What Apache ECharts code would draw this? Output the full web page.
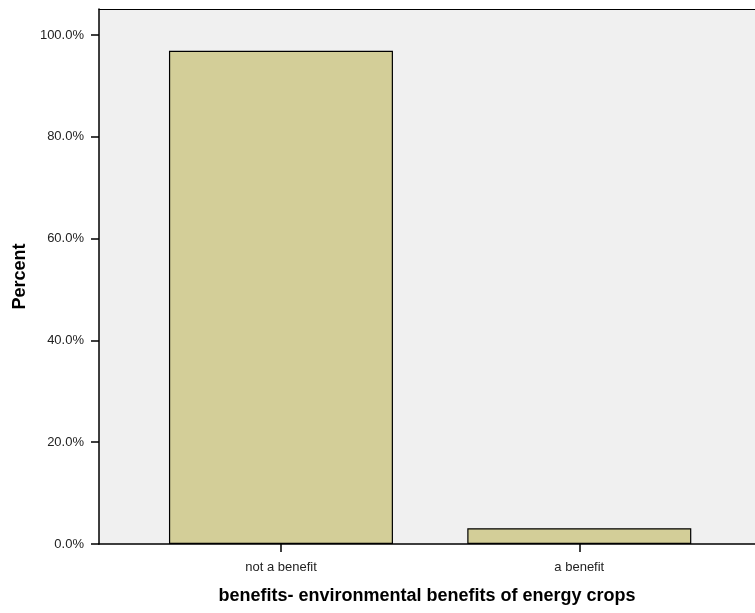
<!DOCTYPE html>
<html>
<head>
<meta charset="utf-8">
<script src="https://cdn.jsdelivr.net/npm/echarts@6/dist/echarts.min.js"></script>
<style>html,body{margin:0;padding:0;background:#fff}#c{width:755px;height:613px}</style>
</head>
<body>
<div id="c"></div>
<script>
const categories = ["not a benefit", "a benefit"];
const percents = [96.9, 3.1];
const yTicks = [0, 20, 40, 60, 80, 100];
const xTitle = "benefits- environmental benefits of energy crops";
const yTitle = "Percent";

const positions = categories.map((c, i) => i);
const font = "Liberation Sans, Arial, sans-serif";
const chart = echarts.init(document.getElementById('c'), null, {renderer: 'canvas'});
chart.setOption({
  animation: false,
  grid: {left: 99, right: 0, top: 9, bottom: 69, show: true, backgroundColor: '#F0F0F0', borderWidth: 0},
  xAxis: [{
    type: 'value', min: -0.61, max: 1.589,
    axisLine: {show: true, onZero: false, lineStyle: {color: '#000', width: 1.5}},
    axisTick: {show: true, length: 8, customValues: positions, lineStyle: {color: '#000', width: 1.5}},
    axisLabel: {customValues: positions, formatter: v => categories[Math.round(v)], color: '#222', fontSize: 13, fontFamily: font, margin: 17},
    splitLine: {show: false},
    name: xTitle, nameLocation: 'middle', nameGap: 43,
    nameTextStyle: {fontSize: 18, fontWeight: 'bold', color: '#000', fontFamily: font}
  }, {
    type: 'value', position: 'top', min: -0.61, max: 1.589,
    axisLine: {show: true, onZero: false, lineStyle: {color: '#000', width: 1.2}},
    axisTick: {show: false}, axisLabel: {show: false}, splitLine: {show: false}
  }],
  yAxis: {
    type: 'value', min: 0, max: 105.1,
    axisLine: {show: true, onZero: false, lineStyle: {color: '#000', width: 1.5}},
    axisTick: {show: true, length: 8, customValues: yTicks, lineStyle: {color: '#000', width: 1.5}},
    axisLabel: {customValues: yTicks, formatter: v => v.toFixed(1) + '%', color: '#222', fontSize: 13, fontFamily: font, margin: 15},
    splitLine: {show: false},
    name: yTitle, nameLocation: 'middle', nameGap: 64, nameRotate: 90,
    nameTextStyle: {fontSize: 18, fontWeight: 'bold', color: '#000', fontFamily: font}
  },
  series: [{
    type: 'bar',
    data: percents.map((v, i) => [positions[i], v]),
    barWidth: 224,
    itemStyle: {color: '#D3CE98', borderColor: '#000', borderWidth: 1.2}
  }]
});
</script>
</body>
</html>
